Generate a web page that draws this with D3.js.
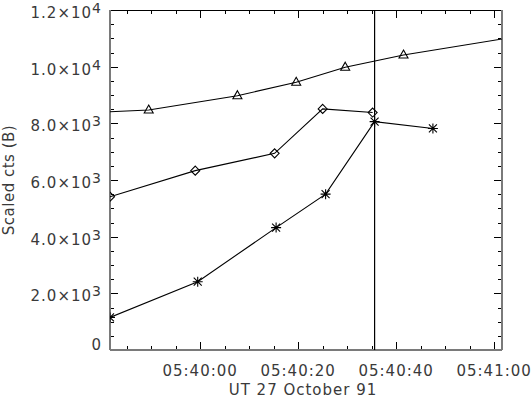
<!DOCTYPE html>
<html>
<head>
<meta charset="utf-8">
<script src="https://cdn.jsdelivr.net/npm/d3@7"></script>
<style>
  body { margin: 0; background: #fff; }
  #chart-area { width: 531px; height: 398px; }
  .lbl { font-family: "DejaVu Sans", sans-serif; font-size: 15px; fill: #3a3a3a; letter-spacing: 1px; }
</style>
</head>
<body>
<div id="chart-area"></div>
<script>
// values (UT, 27 October 1991)
var xDomain = ['05:39:41.6', '05:41:01.6'];
var yDomain = [0, 12000];

var triTimes = ['05:39:38.0', '05:39:49.5', '05:40:07.6', '05:40:19.6', '05:40:29.6', '05:40:41.5', '05:41:05.0'];
var triValues = [8384, 8470, 8975, 9450, 9980, 10410, 11070];

var diaTimes = ['05:39:41.6', '05:39:59.0', '05:40:15.2', '05:40:25.0', '05:40:35.2'];
var diaValues = [5410, 6330, 6940, 8510, 8380];

var starTimes = ['05:39:41.6', '05:39:59.5', '05:40:15.5', '05:40:25.6', '05:40:35.6', '05:40:47.5'];
var starValues = [1150, 2410, 4320, 5500, 8060, 7820];

var markerTime = '05:40:35.6';

var yTicks = [0, 2000, 4000, 6000, 8000, 10000, 12000];
var xLabel = 'UT 27 October 91';
var yLabel = 'Scaled cts (B)';

function parseTime(s) {
  var p = s.split(':');
  var ms = Math.round(+p[2] * 1000);
  return new Date(Date.UTC(1991, 9, 27, +p[0], +p[1], 0, ms));
}

ChartVis = function(_parentElement) {
  this.parentElement = _parentElement;
  this.initVis();
};

ChartVis.prototype.initVis = function() {
  var vis = this;

  vis.margin = {'top': 10, 'bottom': 48, 'left': 110, 'right': 29};
  vis.width = 531 - vis.margin.left - vis.margin.right;
  vis.height = 398 - vis.margin.top - vis.margin.bottom;

  vis.svg = d3.select('#' + vis.parentElement).append('svg')
    .attr('width', 531)
    .attr('height', 398)
    .append('g')
    .attr('transform', 'translate(' + vis.margin.left + ',' + vis.margin.top + ')');

  vis.x = d3.scaleUtc()
    .domain(xDomain.map(parseTime))
    .range([0, vis.width]);
  vis.y = d3.scaleLinear()
    .domain(yDomain)
    .range([vis.height, 0]);

  vis.svg.append('clipPath').attr('id', 'plot-clip')
    .append('rect')
    .attr('width', vis.width)
    .attr('height', vis.height);

  vis.wrangleData();
};

ChartVis.prototype.wrangleData = function() {
  var vis = this;

  function zip(times, values) {
    return times.map((t, i) => ({'t': parseTime(t), 'v': values[i]}));
  }

  vis.series = [
    {'name': 'tri', 'values': zip(triTimes, triValues)},
    {'name': 'dia', 'values': zip(diaTimes, diaValues)},
    {'name': 'star', 'values': zip(starTimes, starValues)}
  ];

  vis.updateVis();
};

ChartVis.prototype.updateVis = function() {
  var vis = this;
  var w = vis.width, h = vis.height;

  // ticks on all four sides, pointing inward
  var xMajor = vis.x.ticks(d3.utcSecond.every(20));
  var xMinor = vis.x.ticks(d3.utcSecond.every(5));
  var yMinor = d3.range(yDomain[0], yDomain[1] + 1, 500);

  var ticks = vis.svg.append('g').attr('stroke', '#000').attr('stroke-width', 1);
  xMinor.forEach((d) => {
    var len = xMajor.some(m => +m === +d) ? 8 : 4;
    var px = Math.round(vis.x(d)) + 0.5;
    ticks.append('line').attr('x1', px).attr('x2', px).attr('y1', h).attr('y2', h - len);
    ticks.append('line').attr('x1', px).attr('x2', px).attr('y1', 0).attr('y2', len);
  });
  yMinor.forEach((d) => {
    var len = d % 2000 === 0 ? 8 : 4;
    var py = Math.round(vis.y(d)) + 0.5;
    ticks.append('line').attr('x1', 0).attr('x2', len).attr('y1', py).attr('y2', py);
    ticks.append('line').attr('x1', w).attr('x2', w - len).attr('y1', py).attr('y2', py);
  });

  // frame
  vis.svg.append('line').attr('x1', 0).attr('x2', w).attr('y1', 0.5).attr('y2', 0.5)
    .attr('stroke', '#000');
  [[0, 0, 0, h], [w, 0, w, h], [0, h, w, h]].forEach((l) => {
    vis.svg.append('line')
      .attr('x1', l[0]).attr('y1', l[1]).attr('x2', l[2]).attr('y2', l[3])
      .attr('stroke', '#7a7a7a').attr('stroke-width', 2);
  });

  // x labels
  vis.svg.selectAll('.xlab')
    .data(xMajor)
    .enter()
    .append('text')
    .attr('class', 'lbl xlab')
    .attr('x', d => vis.x(d))
    .attr('y', h + 26)
    .attr('text-anchor', 'middle')
    .text(d3.utcFormat('%H:%M:%S'));

  // y labels, e.g. 1.2x10^4
  vis.svg.selectAll('.ylab')
    .data(yTicks)
    .enter()
    .append('text')
    .attr('class', 'lbl ylab')
    .attr('x', -8)
    .attr('y', d => vis.y(d) + (d === 0 ? 0 : 8))
    .attr('text-anchor', 'end')
    .each(function(d) {
      var t = d3.select(this);
      if (d === 0) {
        t.text('0');
        return;
      }
      var e = Math.floor(Math.log10(d));
      t.append('tspan').text((d / Math.pow(10, e)).toFixed(1) + '\u00d710');
      t.append('tspan').attr('dy', -5).style('font-size', '14px').text(e);
    });

  vis.svg.append('text')
    .attr('class', 'lbl')
    .attr('x', w / 2 - 3)
    .attr('y', h + 45)
    .attr('text-anchor', 'middle')
    .text(xLabel);

  vis.svg.append('text')
    .attr('class', 'lbl')
    .attr('transform', 'translate(' + (-96) + ',' + (h / 2) + ') rotate(-90)')
    .attr('text-anchor', 'middle')
    .style('letter-spacing', '0.5px')
    .text(yLabel);

  // data
  var plot = vis.svg.append('g').attr('clip-path', 'url(#plot-clip)');

  var line = d3.line()
    .x(d => vis.x(d.t))
    .y(d => vis.y(d.v));

  plot.selectAll('.series')
    .data(vis.series)
    .enter()
    .append('path')
    .attr('class', 'series')
    .attr('d', d => line(d.values))
    .attr('fill', 'none')
    .attr('stroke', '#000')
    .attr('stroke-width', 1.1);

  var symbols = {
    'tri': 'M0,-5L4.5,3L-4.5,3Z',
    'dia': 'M0,-4.5L4.5,0L0,4.5L-4.5,0Z',
    'star': 'M0,-5L0,5M-5,0L5,0M-4,-4L4,4M-4,4L4,-4'
  };

  vis.series.forEach((s) => {
    plot.selectAll('.m-' + s.name)
      .data(s.values)
      .enter()
      .append('path')
      .attr('class', 'm-' + s.name)
      .attr('transform', d => 'translate(' + vis.x(d.t) + ',' + vis.y(d.v) + ')')
      .attr('d', symbols[s.name])
      .attr('fill', 'none')
      .attr('stroke', '#000')
      .attr('stroke-width', 1.1);
  });

  // vertical marker line
  var mx = vis.x(parseTime(markerTime));
  vis.svg.append('line')
    .attr('x1', mx).attr('x2', mx)
    .attr('y1', 0).attr('y2', h)
    .attr('stroke', '#000')
    .attr('stroke-width', 1.2);
};

new ChartVis('chart-area');
</script>
</body>
</html>
